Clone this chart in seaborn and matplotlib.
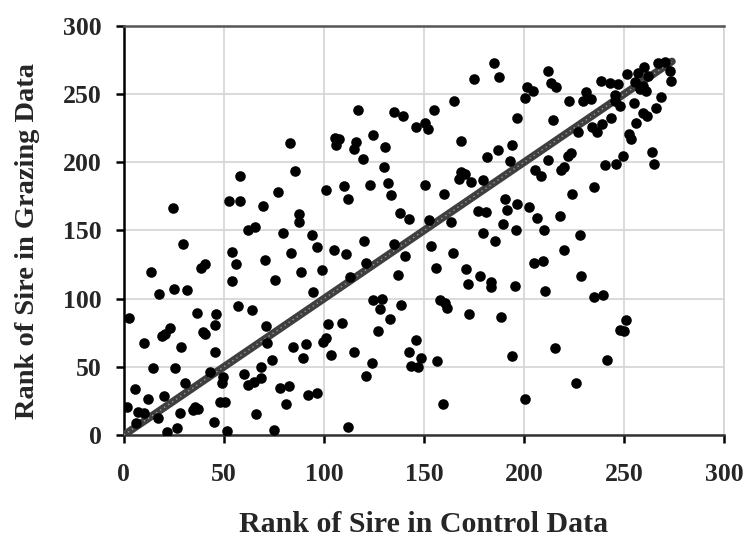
import matplotlib
matplotlib.use("Agg")
import matplotlib.pyplot as plt
import seaborn as sns
import pandas as pd

# Rank of sire in control data (x) and in grazing data (y)
control_rank = [
    24.5,
    29.5, 13.7, 40.3, 38.3, 17.5, 25, 31.7, 2.3, 36.7, 46.2, 45.3, 22.8, 20.4, 19, 39.5, 40.7, 10, 28.7, 45.3,
    14.5, 25.3, 42.8, 30.3, 5.7, 12, 20, 1.7, 7, 10, 35.3, 34.5, 37, 27.8, 17, 6.2, 45, 21.7, 26.7, 47.8,
    83, 85.7, 58.2, 52.3, 57.8, 77, 69.5, 87.5, 87.5, 62, 65.7, 79.5, 94, 100.8,
    96.7, 54, 56.2, 70.3, 83.7, 88.7, 54, 75.7, 94.5, 57, 64, 71.2, 71.7, 84.7, 91.2, 89.5, 74, 68.7, 60,
    49.5, 49, 62, 65, 68.3, 77.8, 82.3, 92, 96.7, 50.3, 81.2, 66.2, 51.7, 75,
    117, 135, 139.5, 146.2, 105.7, 107.3, 106.2, 124.5, 116.2, 115, 130.3, 119.5, 130, 110, 112, 123.2,
    132, 133.7, 137.8, 142.3,
    120, 135, 105, 111.2, 140.3, 121.2, 99, 112.8, 137, 124.5, 129, 127.8, 138.3, 132.8, 102, 109, 127,
    101.2, 99.5, 146.2, 142.3, 115, 103.7, 124, 121.2, 143.3, 147, 112,
    185, 187.5, 175, 165, 155, 150.3, 152, 196.5, 168.3, 181.7, 187, 194, 192.8, 150.7, 160, 168.7, 167.3,
    170.3, 173.7, 179.5, 190.3, 191.7, 196.7, 177, 181.2, 189.5, 152.3, 163.3, 179.5, 196.2,
    185.7, 153.7, 164.5, 156.2, 171.2, 177.8, 172, 183.7, 183.7, 195.7, 157.8, 160.3, 161.7, 172.3, 188.7,
    148.7, 156.7, 194.2, 159.5,
    212, 213.3, 216.2, 238.3, 242.8, 201.7, 204.5, 200.7, 231.2, 229.5, 233.3, 245.3, 222.5, 214.5, 243.7,
    234, 236.7, 239, 227, 223.7, 222, 212, 220, 218.3, 240.7, 246.2, 205.7, 208.3, 235, 224.2, 202.3,
    206.7, 217.8, 210, 227.8,
    220, 205, 209.5, 228.3, 210.7, 235, 239.5, 247.8, 215.7, 241.7, 225.8, 200.3,
    260, 267, 270.3, 251.7, 257, 262, 272.8, 273.7, 255.3, 259.5, 261.2, 257.8, 247, 245.3, 247.8, 268.7,
    266.2, 255, 259.5, 261.7, 256.2, 252.3, 253.7, 249.5, 264, 265,
    251.2, 250,
]
grazing_rank = [
    166.4,
    139.8, 119.6, 125.2, 122.8, 103.2, 107.1, 106.6, 85.9, 89.8, 88.6, 80.5, 78.8, 74.4, 72.5, 75.7, 73.9,
    67.1, 64.2, 61, 49.3, 48.8, 46.4, 37.8, 33.7, 26.4, 28.8, 20.7, 16.8, 16.3, 20.7, 18.3, 18.8, 16.3,
    12.2, 8.6, 9.5, 2.4, 4.9, 24.4,
    214.3, 193.5, 189.6, 171.3, 171.8, 178.1, 167.9, 161.8, 156.2, 150.6, 152.5, 148.1, 146.4, 179.4,
    137.8, 134.2, 125.7, 128.6, 133.7, 119.6, 113, 114, 104.9, 94.4, 92, 79.8, 67.1, 64.6, 66.6, 56.1,
    54.9, 50, 44.7, 42.2, 37.8, 36.6, 39, 41.5, 34.2, 35.9, 29.3, 30.5, 24.4, 22.7, 15.1, 2.9, 3.7,
    238.7, 236.7, 233.8, 225.7, 217.9, 217.2, 213, 220.4, 214.7, 209.9, 211.6, 202.6, 196.9, 182.3, 172.8,
    183.7, 185, 176.2, 163, 158.1,
    142, 140.3, 135.9, 132.5, 131, 126.4, 120.8, 115.9, 117.6, 99.3, 99.6, 92.7, 95.2, 84.9, 81.3, 81.8,
    76.4, 70.8, 68.3, 69.5, 61, 61, 58.6, 52.5, 43.4, 50.5, 50, 6.1,
    272.8, 262.8, 261.1, 245.2, 238.4, 228.6, 224.5, 232.6, 216, 203.7, 209.1, 212.8, 201.3, 183.5, 176.4,
    192.8, 187.9, 191.6, 185.4, 187.2, 173.3, 165.2, 169.6, 164.2, 163.5, 154.5, 157.4, 156.2, 148.1, 150.1,
    142, 138.6, 133.5, 122.5, 122, 116.6, 111, 112.2, 108.6, 109.1, 98.8, 96.9, 93.5, 88.6, 86.2,
    56.1, 54.2, 58.1, 22.7,
    267.2, 257.9, 255, 259.9, 257.9, 255.5, 252.6, 246.9, 251.3, 244.7, 246.5, 249.6, 244.7, 231.1, 232.3,
    225.7, 222, 228.2, 222, 206.7, 205, 201.8, 196.4, 194.5, 197.7, 198.9, 194, 190.3, 181.8, 176.9, 167.1,
    159.4, 160.3, 150.6, 146.4,
    135.4, 126.1, 127.4, 116.4, 105.4, 101.2, 103, 76.9, 63.5, 54.9, 38.3, 26.1,
    269.6, 272.5, 273.3, 264.8, 265.2, 263.5, 267.2, 259.9, 258.6, 256.2, 252.6, 253.8, 257.5, 245.2, 241.6,
    248.2, 239.9, 243.3, 236, 234.3, 228.6, 220.9, 217.2, 205, 207.4, 198.4,
    84.2, 76.4,
]
# Equal-rank reference line
line_x = [0, 274]
line_y = [0, 274]
x_ticks = [0, 50, 100, 150, 200, 250, 300]
y_ticks = [0, 50, 100, 150, 200, 250, 300]

sns.set_theme(style="white")
plt.rcParams["font.family"] = ["Liberation Serif", "DejaVu Serif"]
plt.rcParams["font.weight"] = "bold"

fig = plt.figure(figsize=(7.51, 5.37), dpi=100)
ax = fig.add_axes([0.165, 0.19, 0.799, 0.7616])

df = pd.DataFrame({"control": control_rank, "grazing": grazing_rank})
sns.lineplot(x=line_x, y=line_y, ax=ax, color="#3f3f3f", linewidth=5.5, zorder=3)
sns.lineplot(x=line_x, y=line_y, ax=ax, color="#9a9a9a", linewidth=1.0,
             linestyle=(0, (1, 2.5)), zorder=4)
sns.scatterplot(data=df, x="control", y="grazing", ax=ax, color="black",
                s=58, edgecolor="black", linewidth=0, zorder=5)

ax.set_xlim(0, 300)
ax.set_ylim(0, 300)
ax.set_xticks(x_ticks)
ax.set_yticks(y_ticks)
ax.set_xticklabels([str(t) for t in x_ticks])
ax.set_yticklabels([str(t) for t in y_ticks])
ax.grid(True, color="#d4d4d4", linewidth=1.2)
ax.set_axisbelow(True)

for side in ["left", "bottom", "top", "right"]:
    ax.spines[side].set_visible(True)
    ax.spines[side].set_linewidth(1.8)
ax.spines["left"].set_color("black")
ax.spines["bottom"].set_color("#333333")
ax.spines["top"].set_color("#555555")
ax.spines["right"].set_color("#d4d4d4")
ax.spines["right"].set_linewidth(1.2)

ax.tick_params(axis="both", which="major", direction="out", length=6, width=1.8,
               labelsize=18.5, color="black")
ax.tick_params(axis="x", pad=14, bottom=True)
ax.tick_params(axis="y", pad=10, left=True)
for lab in ax.get_xticklabels() + ax.get_yticklabels():
    lab.set_fontweight("bold")

ax.set_xlabel("Rank of Sire in Control Data", fontsize=21.5, fontweight="bold", labelpad=18)
ax.set_ylabel("Rank of Sire in Grazing Data", fontsize=20.5, fontweight="bold", labelpad=18)
ax.yaxis.set_label_coords(-0.14, 0.475)

fig.savefig("out.png", dpi=100)
